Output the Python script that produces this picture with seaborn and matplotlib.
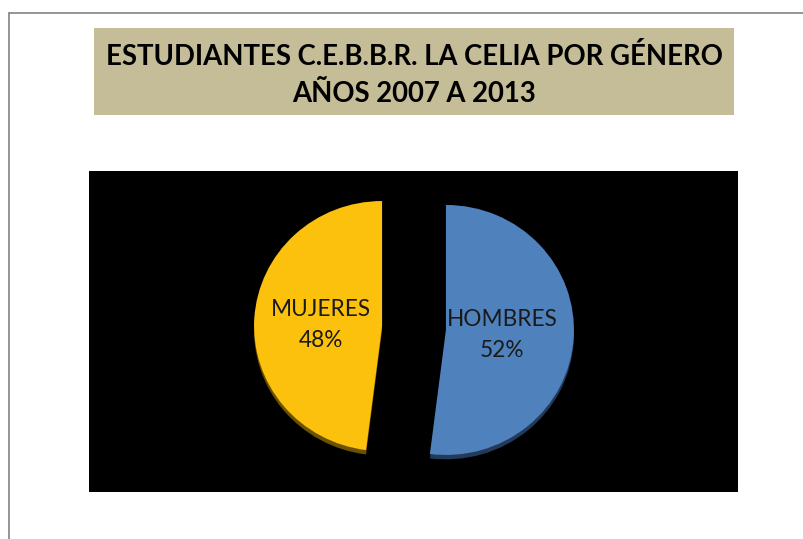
"""Pie chart of C.E.B.B.R. La Celia students by gender, 2007-2013."""

import matplotlib

matplotlib.use("Agg")

import matplotlib.pyplot as plt
import seaborn as sns
from matplotlib.lines import Line2D
from matplotlib.patches import Rectangle


GENDERS = ["HOMBRES", "MUJERES"]
SHARES = [52, 48]
COLORS = ["#4F81BD", "#FCC10D"]
SHADOW_COLORS = ["#243A5A", "#6B5200"]
TITLE_LINES = ["ESTUDIANTES C.E.B.B.R. LA CELIA POR GÉNERO", "AÑOS 2007 A 2013"]

WIDTH, HEIGHT = 804, 539


def fig_box(left, top, right, bottom):
    """Pixel box (top-left origin) to figure fraction rectangle."""
    return [left / WIDTH, 1 - bottom / HEIGHT, (right - left) / WIDTH, (bottom - top) / HEIGHT]


def main():
    sns.set_theme(style="white")
    plt.rcParams["font.family"] = ["Lato", "DejaVu Sans"]

    figure = plt.figure(figsize=(WIDTH / 100, HEIGHT / 100), dpi=100)
    figure.patch.set_facecolor("white")

    # chart frame: only top and left edges show in the crop
    figure.add_artist(Line2D([9.5 / WIDTH, 9.5 / WIDTH], [0, 1 - 13 / HEIGHT],
                             color="#8C8C8C", lw=1.3))
    figure.add_artist(Line2D([9.5 / WIDTH, 1], [1 - 13 / HEIGHT, 1 - 13 / HEIGHT],
                             color="#8C8C8C", lw=1.3))

    # title box
    box = fig_box(94, 28, 734, 115)
    figure.add_artist(Rectangle((box[0], box[1]), box[2], box[3],
                                transform=figure.transFigure,
                                facecolor="#C4BD97", edgecolor="none"))
    figure.text(414 / WIDTH, 1 - 75 / HEIGHT, "\n".join(TITLE_LINES),
                ha="center", va="center", fontsize=19.8, fontweight="bold",
                color="black", linespacing=1.55)

    # black plot area
    ax = figure.add_axes(fig_box(89, 171, 738, 492))

    explode = [0.25, 0.25]
    # darker copy shifted down gives the 3D edge under each slice
    ax.pie(SHARES, colors=SHADOW_COLORS, startangle=90, counterclock=False,
           explode=explode, center=(0, -0.035), radius=1.0,
           wedgeprops={"linewidth": 0})
    ax.pie(SHARES, colors=COLORS, startangle=90, counterclock=False,
           explode=explode, radius=1.0, wedgeprops={"linewidth": 0})
    label_positions = [(0.69, -0.056), (-0.73, 0.024)]
    for name, share, (x, y) in zip(GENDERS, SHARES, label_positions):
        ax.text(x, y, f"{name}\n{share}%", ha="center", va="center",
                fontsize=16.3, color="#1A1A1A", linespacing=1.6)

    # pie() turns the frame off, which also hides the black face
    ax.set_frame_on(True)
    ax.set_facecolor("black")
    for spine in ax.spines.values():
        spine.set_visible(False)
    ax.set_xticks([])
    ax.set_yticks([])

    # pixel-matched limits: x unit 128 px, y unit 125 px, centre at (414, 328)
    ax.set_xlim(-(414 - 89) / 128, (738 - 414) / 128)
    ax.set_ylim(-(492 - 328) / 125, (328 - 171) / 125)
    ax.set_aspect("auto")

    figure.savefig("out.png", dpi=100, facecolor="white")
    plt.close(figure)


if __name__ == "__main__":
    main()
